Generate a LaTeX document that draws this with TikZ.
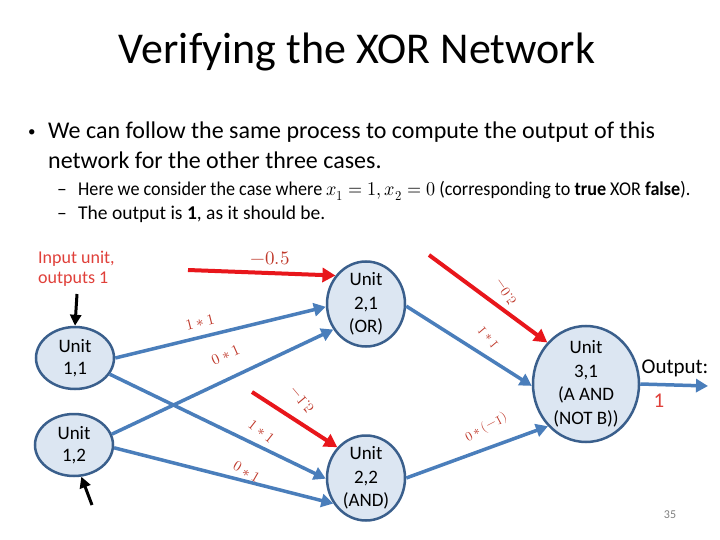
\documentclass[tikz,border=0pt]{standalone}
\usepackage{graphicx}
\usepackage{fontspec}
\usepackage{unicode-math}
\setmainfont{Carlito}
\setmathfont{Latin Modern Math}
\usetikzlibrary{shapes.geometric,arrows.meta}
\definecolor{edgeblue}{HTML}{4A7EBB}
\definecolor{nodefill}{HTML}{DCE6F2}
\definecolor{nodeline}{HTML}{3A5F8C}
\definecolor{biasred}{HTML}{E8161B}
\definecolor{labred}{HTML}{C0392B}
\definecolor{txtred}{HTML}{E0403A}
\definecolor{pagegrey}{HTML}{808080}
\begin{document}
\begin{tikzpicture}[x=1pt,y=-1pt,
  unit/.style={ellipse, draw=nodeline, line width=2.5pt, fill=nodefill, inner sep=-3pt,
    align=center, font=\fontsize{19}{23.5}\selectfont},
  wedge/.style={draw=edgeblue, line width=3.5pt, -{Triangle[length=12pt,width=13pt]}},
  bias/.style={draw=biasred, line width=4pt, -{Triangle[length=13pt,width=14pt]}},
  inarr/.style={draw=black, line width=3pt, -{Triangle[length=11pt,width=11pt]}},
  lab/.style={text=labred, inner sep=0pt},
  bigtxt/.style={font=\fontsize{24}{28}\selectfont, anchor=west, inner sep=0pt},
  subtxt/.style={font=\fontsize{19.5}{22}\selectfont, anchor=west, inner sep=0pt},
]
\useasboundingbox (0,0) rectangle (720,540);
\fill[white] (0,0) rectangle (720,540);

% title and text
\node[font=\fontsize{44}{52}\selectfont] (title) at (357,52) {Verifying the XOR Network};
\node[bigtxt] (l1) at (28,132) {\makebox[20pt][l]{\raisebox{2pt}{\fontsize{15}{15}\selectfont •}}We can follow the same process to compute the output of this};
\node[bigtxt] (l2) at (48,160) {network for the other three cases.};
\node[subtxt] (s1) at (57,191) {\makebox[21pt][l]{–}\scalebox{0.93}[1]{Here we consider the case where $x_1=1, x_2=0$ (corresponding to \textbf{true} XOR \textbf{false}).}};
\node[subtxt] (s2) at (57,214) {\makebox[21pt][l]{–}The output is \textbf{1}, as it should be.};

\node[font=\fontsize{18}{20}\selectfont, text=txtred, align=left, anchor=west, inner sep=0pt] (inlab) at (38,269) {Input unit,\\outputs 1};

% units
\node[unit, minimum width=78pt, minimum height=62pt, font=\fontsize{19}{21.5}\selectfont] (u11) at (75,358) {Unit\\1,1};
\node[unit, minimum width=78pt, minimum height=62pt, font=\fontsize{19}{21.5}\selectfont] (u12) at (74,445) {Unit\\1,2};
\node[unit, minimum width=78pt, minimum height=85pt] (u21) at (366,304) {Unit\\2,1\\(OR)};
\node[unit, minimum width=78pt, minimum height=85pt] (u22) at (366,478) {Unit\\2,2\\(AND)};
\node[unit, minimum width=106pt, minimum height=116pt] (u31) at (586,384) {Unit\\3,1\\(A AND\\(NOT B))};

% weighted edges
\draw[wedge] (u11.0) -- (u21.184);
\draw[wedge] (u12.16) -- (u21.218);
\draw[wedge] (u11.335) -- (u22.181);
\draw[wedge] (u12.356) -- (u22.218);
\draw[wedge] (u21.357) -- (u31.182);
\draw[wedge] (u22.0) -- (u31.228);
\coordinate (out) at (708,386);
\draw[wedge] (u31.east) -- (out);

% biases
\coordinate (b1) at (188,270);
\draw[bias] (b1) -- (u21.137);
\coordinate (b2) at (252,392);
\draw[bias] (b2) -- (u22.133);
\coordinate (b3) at (429,255);
\draw[bias] (b3) -- (u31.133);

% inputs
\coordinate (i1) at (77,294);
\draw[inarr] (i1) -- (u11.north);
\coordinate (i2) at (92,505);
\draw[inarr] (i2) -- (u12.283);

% labels
\node[lab, font=\fontsize{19}{19}\selectfont] (w0) at (270,258) {$-0.5$};
\node[lab, font=\fontsize{15}{15}\selectfont, rotate=14] (w1) at (200,322) {$1*1$};
\node[lab, font=\fontsize{15}{15}\selectfont, rotate=24] (w2) at (226,355) {$0*1$};
\node[lab, font=\fontsize{14.5}{14.5}\selectfont, rotate=-38] (w3) at (262,431) {$1*1$};
\node[lab, font=\fontsize{14.5}{14.5}\selectfont, rotate=-30] (w4) at (247,472) {$0*1$};
\node[lab, font=\fontsize{15}{15}\selectfont, rotate=-50] (w5) at (302,400) {\scalebox{1}[-1]{$-1.5$}};
\node[lab, font=\fontsize{14}{14}\selectfont, rotate=-55] (w6) at (506,292) {\scalebox{1}[-1]{$-0.5$}};
\node[lab, font=\fontsize{13}{13}\selectfont, rotate=-50] (w7) at (488,338) {\scalebox{1}[-1]{$1*1$}};
\node[lab, font=\fontsize{13}{13}\selectfont, rotate=28] (w8) at (486,427) {\scalebox{1}[-1]{$0*(-1)$}};

\node[font=\fontsize{21}{21}\selectfont, inner sep=0pt] (outlab) at (675,368) {Output:};
\node[font=\fontsize{21}{21}\selectfont, text=txtred, inner sep=0pt] (outval) at (659,401) {1};
\node[font=\fontsize{12}{12}\selectfont, text=pagegrey, inner sep=0pt] (pg) at (670,515) {35};
\end{tikzpicture}
\end{document}
